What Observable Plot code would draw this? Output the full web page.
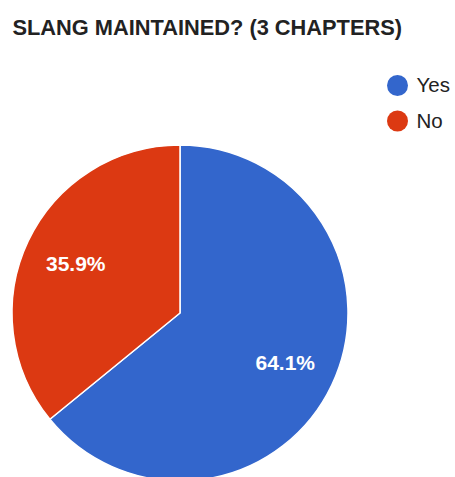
<!DOCTYPE html>
<html>
<head>
<meta charset="utf-8">
<script src="https://cdn.jsdelivr.net/npm/d3@7"></script>
<script src="https://cdn.jsdelivr.net/npm/@observablehq/plot@0.6"></script>
<style>
  html, body { margin: 0; padding: 0; background: #fff; }
  svg { font-family: "Liberation Sans", Arial, sans-serif; }
</style>
</head>
<body>
<div id="chart"></div>
<script>
const title = "SLANG MAINTAINED? (3 CHAPTERS)";
const categories = ["Yes", "No"];
const values = [64.1, 35.9];
const colors = ["#3366cc", "#dc3912"];

const W = 455, H = 477;
const R = 168;           // pie radius in px
const cx = 180, cy = 313; // pie centre in px

const slices = d3.pie().sort(null).value(d => d.value)(
  categories.map((c, i) => ({category: c, value: values[i]}))
);

const labelR = 0.69;
const labels = slices.map(s => {
  const a = (s.startAngle + s.endAngle) / 2;
  return {text: s.data.value.toFixed(1) + "%", x: labelR * Math.sin(a), y: labelR * Math.cos(a)};
});

function pieMark(index, scales, values, dimensions) {
  const g = d3.create("svg:g")
    .attr("transform", `translate(${scales.x(0)},${scales.y(0)})`);
  const r = scales.x(1) - scales.x(0);
  const arc = d3.arc().innerRadius(0).outerRadius(r);
  g.selectAll("path").data(slices).join("path")
    .attr("d", arc)
    .attr("fill", d => scales.color(d.data.category))
    .attr("stroke", "#fff")
    .attr("stroke-width", 1.5);
  return g.node();
}

const legendMarks = categories.flatMap((c, i) => [
  Plot.dot([c], {frameAnchor: "top-left", dx: 397, dy: 85 + i * 35.5, r: 10.5, fill: d => d}),
  Plot.text([c], {frameAnchor: "top-left", dx: 416, dy: 85 + i * 35.5, text: d => d,
    textAnchor: "start", lineAnchor: "middle", fontSize: 20.5, fill: "#222"})
]);

const chart = Plot.plot({
  width: W,
  height: H,
  margin: 0,
  x: {domain: [-cx / R, (W - cx) / R], axis: null},
  y: {domain: [-(H - cy) / R, cy / R], axis: null},
  color: {domain: categories, range: colors},
  marks: [
    pieMark,
    Plot.text(labels, {x: "x", y: "y", text: "text", fill: "#fff", fontSize: 21,
      fontWeight: "bold", lineAnchor: "middle"}),
    Plot.text([title], {frameAnchor: "top-left", dx: 12, dy: 19, text: d => d,
      textAnchor: "start", lineAnchor: "top", fontSize: 21.8, fontWeight: "bold", fill: "#222"}),
    ...legendMarks
  ]
});
document.getElementById("chart").append(chart);
</script>
</body>
</html>
